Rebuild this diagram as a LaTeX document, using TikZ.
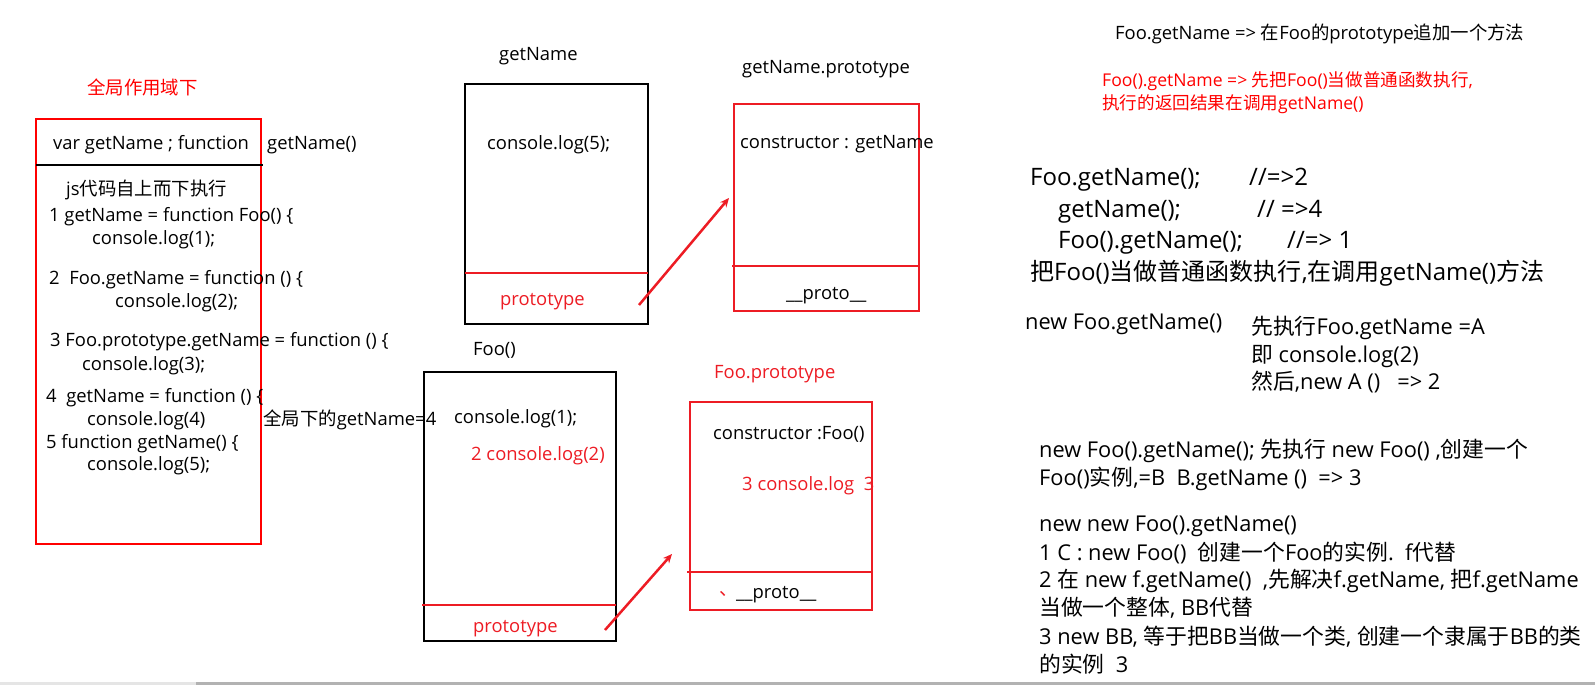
\documentclass[tikz,border=0pt]{standalone}
\usepackage{fontspec}
\setmainfont{Open Sans}
\newfontfamily\zhfont{Noto Sans CJK SC}
\newcommand{\zh}[1]{{\zhfont #1}}
\usetikzlibrary{arrows.meta}
\definecolor{boxred}{RGB}{237,28,36}
\definecolor{pured}{RGB}{255,0,0}
\tikzset{
  txt/.style = {anchor = west, inner sep = 0pt, text height = 17pt, text depth = 3pt,
    font = \fontsize{18.4}{22}\selectfont},
  redtxt/.style = {txt, font = \fontsize{17.6}{21}\selectfont},
  mid/.style = {anchor = west, inner sep = 0pt, text height = 19pt, text depth = 4pt,
    font = \fontsize{21.8}{26}\selectfont},
  big/.style = {anchor = west, inner sep = 0pt, text height = 20pt, text depth = 4pt,
    font = \fontsize{24}{28}\selectfont},
  blackbox/.style = {draw = black, line width = 2},
  redbox/.style = {draw = boxred, line width = 2},
  redline/.style = {boxred, line width = 2},
  redarrow/.style = {boxred, line width = 2.5, -{Stealth[length = 9pt, width = 8pt]}}
}

\begin{document}
\begin{tikzpicture}[x = 1pt, y = -1pt]
\useasboundingbox (0, 0) rectangle (1595, 685);
%\draw[very thin, color = gray] (0, 0) grid[step = 100] (1595, 685);

% global scope box
\node (scopeTitle) at (87, 87) [txt, pured] {\zh{全局作用域下}};
\draw [pured, line width = 2.5] (36, 119) rectangle (261, 544);
\draw [black, line width = 2] (36, 165) -- (263, 165);
\node (scopeHead) at (53, 142) [txt] {var getName ; function};
\node (scopeHeadB) at (267, 142) [txt] {getName()};
\node (scopeL0) at (66, 188) [txt] {js\zh{代码自上而下执行}};
\node (scopeL1) at (49, 214) [txt] {1 getName = function Foo() \{};
\node (scopeL1b) at (92, 237) [txt] {console.log(1);};
\node (scopeL2) at (49, 277) [txt] {2\ \ Foo.getName = function () \{};
\node (scopeL2b) at (115, 300) [txt] {console.log(2);};
\node (scopeL3) at (50, 339) [txt] {3 Foo.prototype.getName\ = function () \{};
\node (scopeL3b) at (82, 363) [txt] {console.log(3);};
\node (scopeL4) at (46, 395) [txt] {4\ \ getName = function () \{};
\node (scopeL4b) at (87, 418) [txt] {console.log(4)};
\node (scopeNote) at (263, 418) [txt] {\zh{全局下的}getName=4};
\node (scopeL5) at (46, 441) [txt] {5 function getName() \{};
\node (scopeL5b) at (87, 463) [txt] {console.log(5);};

% getName and getName.prototype
\node (gnTitle) at (499, 53) [txt] {getName};
\draw [blackbox] (465, 84) rectangle (648, 324);
\draw [redline] (465, 273) -- (648, 273);
\node (gnBody) at (487, 142) [txt] {console.log(5);};
\node (gnProto) at (500, 298) [txt, boxred] {prototype};
\node (gnpTitle) at (742, 67) [txt] {getName.prototype};
\draw [redbox] (734, 104) rectangle (919, 311);
\draw [redline] (732, 266) -- (919, 266);
\node (gnpCtor) at (740, 141) [txt] {constructor : getName};
\node (gnpProto) at (786, 292) [txt] {\_\_proto\_\_};
\coordinate (gnArrowStart) at (639, 305);
\coordinate (gnArrowEnd) at (729, 198);
\draw [redarrow] (gnArrowStart) -- (gnArrowEnd);

% Foo and Foo.prototype
\node (fooTitle) at (473, 348) [txt] {Foo()};
\draw [blackbox] (424, 372) rectangle (616, 641);
\draw [redline] (422, 605) -- (616, 605);
\node (fooBody) at (454, 416) [txt] {console.log(1);};
\node (fooBodyB) at (471, 453) [txt, boxred] {2 console.log(2)};
\node (fooProto) at (473, 625) [txt, boxred] {prototype};
\node (fpTitle) at (714, 371) [txt, boxred] {Foo.prototype};
\draw [redbox] (690, 402) rectangle (872, 610);
\draw [redline] (687, 572) -- (872, 572);
\node (fpCtor) at (713, 432) [txt] {constructor :Foo()};
\node (fpBody) at (742, 483) [txt, boxred] {3 console.log\ \ 3};
\node (fpMark) at (719, 588) [txt, boxred] {\zh{、}};
\node (fpProto) at (736, 591) [txt] {\_\_proto\_\_};
\coordinate (fooArrowStart) at (605, 630);
\coordinate (fooArrowEnd) at (672, 554);
\draw [redarrow] (fooArrowStart) -- (fooArrowEnd);

% notes on the right
\node (noteA) at (1115, 33) [txt] {Foo.getName => \zh{在}Foo\zh{的}prototype\zh{追加一个方法}};
\node (noteB) at (1102, 79) [redtxt, pured] {Foo().getName => \zh{先把}Foo()\zh{当做普通函数执行},};
\node (noteC) at (1102, 102) [redtxt, pured] {\zh{执行的返回结果在调用}getName()};
\node (qA) at (1030, 177) [big] {Foo.getName();};
\node (qAres) at (1249, 177) [big] {//=>2};
\node (qB) at (1058, 209) [big] {getName();};
\node (qBres) at (1257, 209) [big] {// =>4};
\node (qC) at (1058, 240) [big] {Foo().getName();};
\node (qCres) at (1287, 240) [big] {//=> 1};
\node (qCnote) at (1030, 272) [big] {\zh{把}Foo()\zh{当做普通函数执行},\zh{在调用}getName()\zh{方法}};
\node (qD) at (1025, 322) [mid] {new Foo.getName()};
\node (qD1) at (1251, 327) [mid] {\zh{先执行}Foo.getName =A};
\node (qD2) at (1251, 355) [mid] {\zh{即} console.log(2)};
\node (qD3) at (1251, 382) [mid] {\zh{然后},new A ()\ \ \ => 2};
\node (qE1) at (1039, 450) [mid] {new Foo().getName(); \zh{先执行} new Foo() ,\zh{创建一个}};
\node (qE2) at (1039, 478) [mid] {Foo()\zh{实例},=B\ \ B.getName ()\ \ => 3};
\node (qF0) at (1039, 524) [mid] {new new Foo().getName()};
\node (qF1) at (1039, 553) [mid] {1 C : new Foo()\ \ \zh{创建一个}Foo\zh{的实例}.\ \ f\zh{代替}};
\node (qF2) at (1039, 580) [mid] {2 \zh{在} new f.getName()\ \ ,\zh{先解决}f.getName, \zh{把}f.getName};
\node (qF3) at (1039, 608) [mid] {\zh{当做一个整体}, BB\zh{代替}};
\node (qF4) at (1039, 637) [mid] {3 new BB, \zh{等于把}BB\zh{当做一个类}, \zh{创建一个隶属于}BB\zh{的类}};
\node (qF5) at (1039, 665) [mid] {\zh{的实例}\ \ 3};

% window edge
\draw [gray!20, line width = 3] (0, 683.5) -- (196, 683.5);
\draw [gray!60, line width = 3] (196, 683.5) -- (1595, 683.5);
\end{tikzpicture}
\end{document}
